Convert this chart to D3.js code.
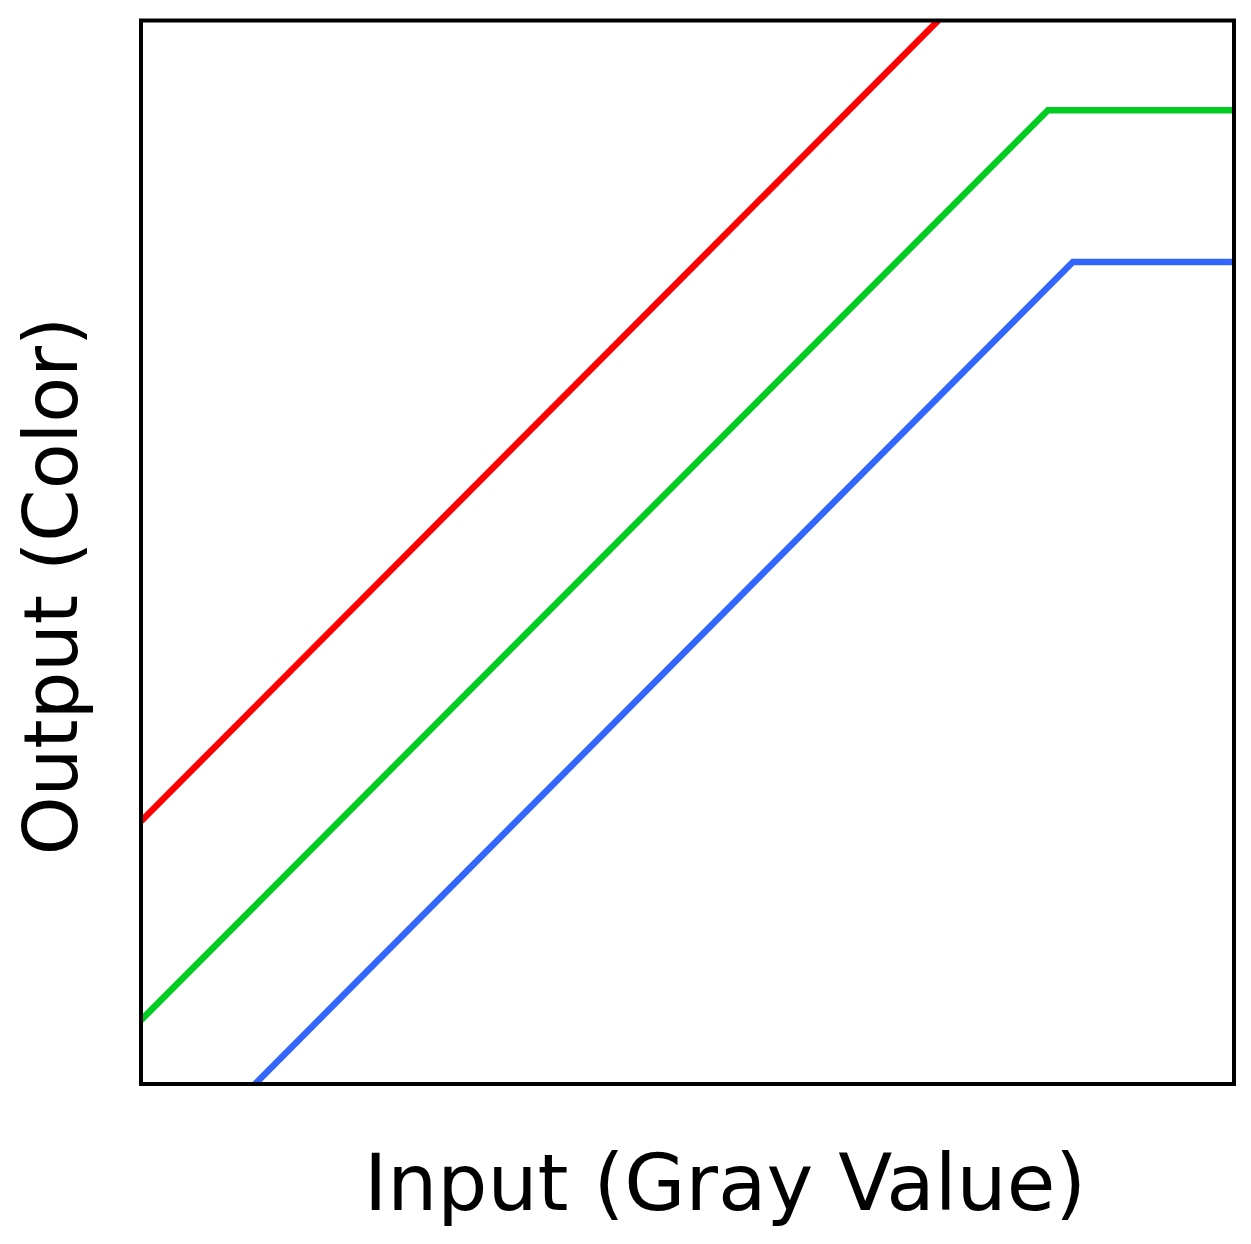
<!DOCTYPE html>
<html>
<head>
<meta charset="utf-8">
<script src="https://cdn.jsdelivr.net/npm/d3@7"></script>
<style>
  body { margin: 0; background: #fff; }
  text { font-family: "DejaVu Sans", sans-serif; }
</style>
</head>
<body>
<div id="chart"></div>
<script>
// series values (input 0-255 -> output 0-255)
const redPts = [[0, 63], [186, 255]];
const greenPts = [[0, 15.3], [211.6, 233.5], [255, 233.5]];
const bluePts = [[26.6, 0], [217.4, 197.1], [255, 197.1]];
const seriesNames = ["red", "green", "blue"];
const seriesColors = ["#ff0000", "#00cc22", "#3366ff"];
const xLabel = "Input (Gray Value)";
const yLabel = "Output (Color)";

const width = 1251, height = 1244;
const plot = { left: 141, right: 1234, top: 20.5, bottom: 1084 };

//create svg box
const svg = d3.select("#chart").append("svg")
    .attr("width", width)
    .attr("height", height);

const x = d3.scaleLinear().domain([0, 255]).range([plot.left, plot.right]);
const y = d3.scaleLinear().domain([0, 255]).range([plot.bottom, plot.top]);

svg.append("clipPath").attr("id", "clip")
    .append("rect")
    .attr("x", plot.left).attr("y", plot.top)
    .attr("width", plot.right - plot.left)
    .attr("height", plot.bottom - plot.top);

const line = d3.line().x(d => x(d[0])).y(d => y(d[1]));

//draw each channel line
[redPts, greenPts, bluePts].forEach(function(pts, i) {
    svg.append("path")
        .datum(pts)
        .attr("class", "line-" + seriesNames[i])
        .attr("clip-path", "url(#clip)")
        .attr("fill", "none")
        .attr("stroke", seriesColors[i])
        .attr("stroke-width", 6.5)
        .attr("d", line);
});

//frame around plot, no ticks
svg.append("rect")
    .attr("x", plot.left).attr("y", plot.top)
    .attr("width", plot.right - plot.left)
    .attr("height", plot.bottom - plot.top)
    .attr("fill", "none")
    .attr("stroke", "#000")
    .attr("stroke-width", 4);

//axis labels
svg.append("text")
    .attr("x", 725)
    .attr("y", 1210)
    .attr("text-anchor", "middle")
    .attr("font-size", 79)
    .text(xLabel);

svg.append("text")
    .attr("transform", "translate(77,586) rotate(-90)")
    .attr("text-anchor", "middle")
    .attr("font-size", 75)
    .text(yLabel);
</script>
</body>
</html>
